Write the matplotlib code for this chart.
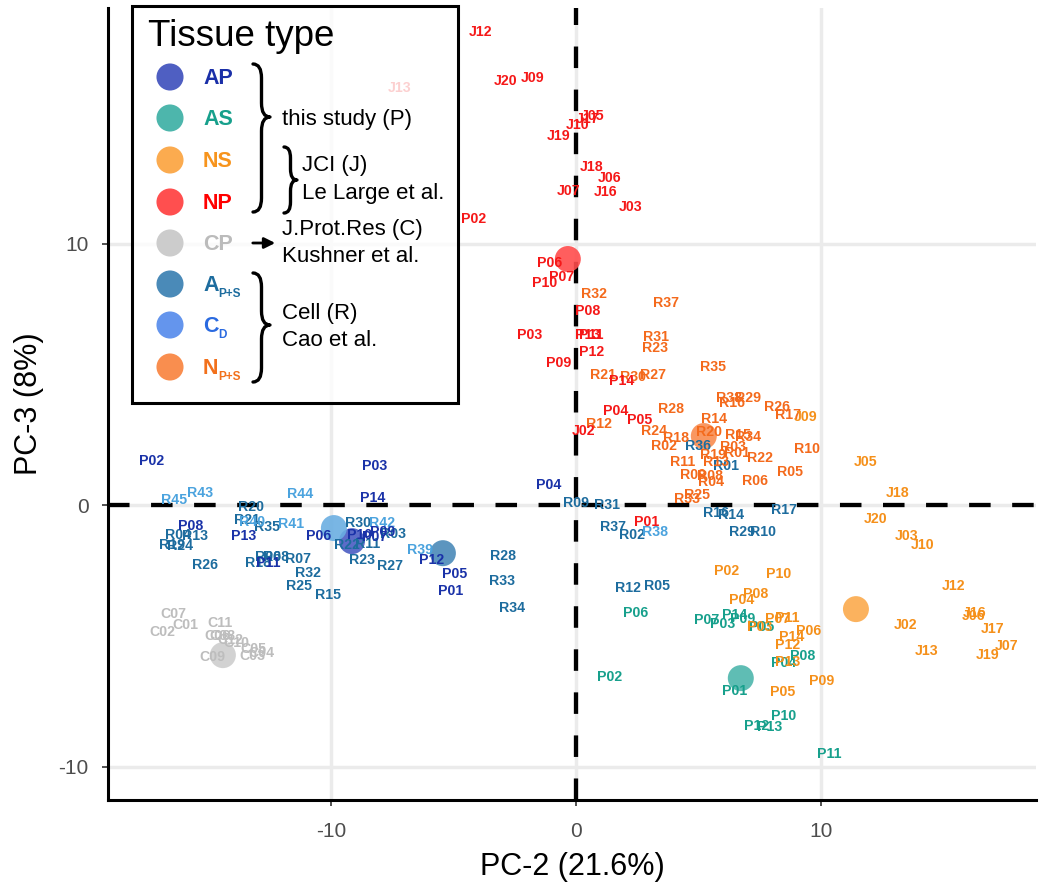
import matplotlib
matplotlib.use('Agg')
import matplotlib.pyplot as plt
from matplotlib.path import Path
from matplotlib.patches import PathPatch, Rectangle

plt.rcParams['font.family'] = ['Liberation Sans', 'DejaVu Sans']
plt.rcParams['axes.unicode_minus'] = False

# ---------------- data (PC-2, PC-3) ----------------
np_labels = ['J12','J20','J09','J13','J05','J17','J10','J19','J18','J06','J07','J16','J03',
             'P02','P06','P07','P10','P08','P03','P13','P11','P12','P09','P14','P04','P05','J02','P01']
np_x = [-3.88,-2.86,-1.76,-7.18,0.69,0.49,0.08,-0.69,0.65,1.39,-0.29,1.22,2.24,
        -4.16,-1.06,-0.57,-1.27,0.49,-1.88,0.49,0.61,0.65,-0.69,1.88,1.63,2.61,0.33,2.90]
np_y = [18.09,16.21,16.33,15.95,14.88,14.76,14.53,14.11,12.93,12.50,12.01,11.97,11.40,
        10.94,9.25,8.72,8.49,7.42,6.50,6.50,6.50,5.85,5.43,4.74,3.59,3.25,2.83,-0.65]

nps_labels = ['R32','R37','R31','R23','R35','R21','R30','R27','R38','R16','R29','R26','R17','R28',
              'R14','R12','R24','R20','R15','R34','R18','R02','R03','R10','R01','R19','R13','R22',
              'R11','R05','R09','R08','R06','R04','R25','R33']
nps_x = [0.73,3.67,3.27,3.22,5.59,1.10,2.33,3.14,6.24,6.37,7.02,8.20,8.65,3.88,
         5.63,0.94,3.18,5.43,6.61,7.02,4.08,3.59,6.41,9.43,6.57,5.59,5.71,7.51,
         4.37,8.73,4.78,5.47,7.31,5.51,4.94,4.53]
nps_y = [8.07,7.72,6.42,6.00,5.28,4.97,4.89,4.97,4.09,3.90,4.09,3.75,3.44,3.67,
         3.29,3.10,2.83,2.79,2.68,2.60,2.56,2.26,2.22,2.14,1.99,1.91,1.64,1.80,
         1.64,1.26,1.15,1.11,0.92,0.88,0.38,0.23]

aps_labels = ['R36','R01','R09','R31','R37','R02','R16','R14','R17','R29','R10','R12','R05',
              'R28','R33','R34','R20','R21','R35','R04','R13','R24','R19','R26','R30','R03',
              'R22','R11','R23','R27','R06','R08','R18','R07','R32','R25','R15']
aps_x = [4.98,6.12,0.00,1.27,1.51,2.29,5.71,6.33,8.49,6.78,7.63,2.12,3.31,
         -2.98,-3.02,-2.61,-13.27,-13.43,-12.61,-16.24,-15.55,-16.16,-16.49,-15.14,-8.90,-7.47,
         -9.35,-8.49,-8.73,-7.59,-12.57,-12.24,-12.98,-11.35,-10.94,-11.31,-10.12]
aps_y = [2.26,1.49,0.08,0.00,-0.84,-1.15,-0.31,-0.38,-0.19,-1.03,-1.03,-3.17,-3.10,
         -1.95,-2.91,-3.94,-0.08,-0.57,-0.84,-1.15,-1.19,-1.57,-1.53,-2.29,-0.69,-1.11,
         -1.53,-1.49,-2.10,-2.33,-1.99,-1.99,-2.22,-2.06,-2.60,-3.10,-3.44]

cd_labels = ['R45','R43','R44','R40','R41','R42','R39','R38']
cd_x = [-16.41,-15.35,-11.27,-13.22,-11.63,-7.92,-6.37,3.22]
cd_y = [0.19,0.46,0.42,-0.65,-0.73,-0.69,-1.72,-1.03]

ap_labels = ['P02','P03','P14','P04','P08','P13','P06','P10','P07','P09','P11','P12','P05','P01']
ap_x = [-17.31,-8.20,-8.29,-1.10,-15.71,-13.55,-10.49,-8.82,-8.20,-7.88,-12.57,-5.88,-4.94,-5.10]
ap_y = [1.68,1.49,0.27,0.76,-0.80,-1.19,-1.19,-1.15,-1.22,-1.03,-2.22,-2.10,-2.64,-3.29]

as_labels = ['P06','P07','P14','P09','P03','P05','P08','P04','P02','P01','P10','P12','P13','P11']
as_x = [2.45,5.35,6.49,6.82,6.00,7.59,9.27,8.49,1.39,6.49,8.49,7.39,7.92,10.33]
as_y = [-4.13,-4.40,-4.21,-4.36,-4.55,-4.67,-5.77,-6.04,-6.58,-7.11,-8.07,-8.45,-8.49,-9.52]

ns_labels = ['P02','P10','P08','P04','P07','P11','P03','P06','P14','P12','P13','P09','P05',
             'J05','J09','J18','J20','J03','J10','J12','J16','J06','J17','J02','J13','J07','J19']
ns_x = [6.16,8.29,7.35,6.78,8.24,8.61,7.51,9.51,8.82,8.65,8.65,10.04,8.45,
        11.84,9.39,13.14,12.24,13.51,14.16,15.43,16.29,16.24,17.02,13.47,14.33,17.59,16.82]
ns_y = [-2.52,-2.64,-3.40,-3.63,-4.36,-4.32,-4.67,-4.82,-5.05,-5.35,-6.00,-6.73,-7.15,
        1.64,3.37,0.46,-0.54,-1.19,-1.53,-3.10,-4.13,-4.24,-4.74,-4.59,-5.58,-5.39,-5.74]

cp_labels = ['C07','C01','C02','C11','C06','C08','C12','C10','C05','C04','C03','C09']
cp_x = [-16.45,-15.96,-16.90,-14.53,-14.65,-14.45,-14.12,-13.88,-13.18,-12.82,-13.22,-14.82]
cp_y = [-4.17,-4.59,-4.86,-4.51,-5.01,-5.01,-5.16,-5.28,-5.51,-5.66,-5.77,-5.81]

# group centroids
cent_groups = ['AP','AS','NS','NP','CP','APS','CD','NPS']
cent_x = [-9.14, 6.73, 11.43, -0.33, -14.41, -5.43, -9.88, 5.22]
cent_y = [-1.38, -6.62, -3.98, 9.41, -5.74, -1.84, -0.88, 2.64]

# legend
leg_main = ['AP','AS','NS','NP','CP','A','C','N']
leg_sub = ['', '', '', '', '', 'P+S', 'D', 'P+S']

# ---------------- styles ----------------
text_col = {'AP':'#1A32A8','AS':'#17A08C','NS':'#F5901A','NP':'#F51818','CP':'#BDBDBD',
            'APS':'#1D6C9E','CD':'#4BA3DE','NPS':'#F46A1C'}
circ_col = {'AP':'#4A5CC2','AS':'#4DB6AC','NS':'#FBAA4C','NP':'#FF4C4C','CP':'#CECECE',
            'APS':'#4A8AB8','CD':'#6AAEE2','NPS':'#F98C50'}
leg_circ = ['#4F5FC2','#4DB6AC','#FBAB4F','#FF4F4F','#CCCCCC','#4A8AB8','#6495ED','#F98E4F']
leg_text = ['#1A2FA8','#17A08C','#F7941D','#FF0000','#BBBBBB','#1D6C9E','#2A6AE0','#F2701B']

fig = plt.figure(figsize=(10.41, 8.91), dpi=100)
ax = fig.add_axes([108/1041, 91/891, 928/1041, 792/891])
ax.set_xlim(-19.10, 18.78)
ax.set_ylim(-11.28, 19.01)
ax.set_xticks([-10, 0, 10])
ax.set_yticks([-10, 0, 10])
ax.grid(True, color='#EBEBEB', lw=2.5)
ax.set_axisbelow(True)
for s in ['top', 'right']:
    ax.spines[s].set_visible(False)
for s in ['left', 'bottom']:
    ax.spines[s].set_linewidth(2.2)
ax.tick_params(labelsize=15, labelcolor='#4D4D4D', color='#333333', length=4, width=1.2)
ax.tick_params(axis='x', pad=12)
ax.tick_params(axis='y', pad=10)
ax.axhline(0, color='black', lw=3.1, ls=(0, (5, 5)), zorder=1.5)
ax.axvline(0, color='black', lw=3.1, ls=(0, (5, 5)), zorder=1.5)
ax.set_xlabel('PC-2 (21.6%)', fontsize=22, labelpad=8)
ax.set_ylabel('PC-3 (8%)', fontsize=22, labelpad=10)

# centroids
for g, cx, cy in zip(cent_groups, cent_x, cent_y):
    ax.scatter([cx], [cy], s=350, color=circ_col[g], alpha=0.9, edgecolors='none', zorder=2)

groups = [('CP', cp_labels, cp_x, cp_y), ('APS', aps_labels, aps_x, aps_y),
          ('CD', cd_labels, cd_x, cd_y), ('NPS', nps_labels, nps_x, nps_y),
          ('AS', as_labels, as_x, as_y), ('NS', ns_labels, ns_x, ns_y),
          ('AP', ap_labels, ap_x, ap_y), ('NP', np_labels, np_x, np_y)]
for g, labs, xs, ys in groups:
    for lab, x, y in zip(labs, xs, ys):
        ax.text(x, y, lab, color=text_col[g], fontsize=10.2, fontweight='bold',
                ha='center', va='center', zorder=3)

# ---------------- legend overlay in pixel coords ----------------
lax = fig.add_axes([0, 0, 1, 1], zorder=10)
lax.set_xlim(0, 1041)
lax.set_ylim(891, 0)
lax.axis('off')
lax.add_patch(Rectangle((132, 6), 326, 397, facecolor=(1, 1, 1, 0.8),
                        edgecolor='black', lw=2.2))
lax.text(148, 46, 'Tissue type', fontsize=26.5, ha='left', va='baseline', color='black')

leg_y = [77, 118, 160, 202, 243, 284, 325, 367]
for yy, c in zip(leg_y, leg_circ):
    lax.scatter([170], [yy], s=380, color=c, edgecolors='none')
for yy, m, sub, tc in zip(leg_y, leg_main, leg_sub, leg_text):
    lax.text(203, yy + 7, m, fontsize=15.5, fontweight='bold', color=tc, ha='left', va='baseline')
    if sub:
        lax.text(218, yy + 13, sub, fontsize=8.5, fontweight='bold', color=tc,
                 ha='left', va='baseline')


def brace(x, y0, y1, ytip, w, lw=2.4):
    h = w / 2.0
    q = min(14, (ytip - y0) / 3, (y1 - ytip) / 3)
    verts = [(x, y0), (x + h, y0), (x + h, y0 + q),
             (x + h, ytip - q),
             (x + h, ytip), (x + w, ytip),
             (x + h, ytip), (x + h, ytip + q),
             (x + h, y1 - q),
             (x + h, y1), (x, y1)]
    codes = [Path.MOVETO, Path.CURVE3, Path.CURVE3,
             Path.LINETO,
             Path.CURVE3, Path.CURVE3,
             Path.CURVE3, Path.CURVE3,
             Path.LINETO,
             Path.CURVE3, Path.CURVE3]
    lax.add_patch(PathPatch(Path(verts, codes), facecolor='none', edgecolor='black',
                            lw=lw, capstyle='round', joinstyle='round'))


brace(253, 64, 212, 117, 17)
brace(284, 147, 213, 180, 13)
brace(253, 273, 382, 325, 17)

lax.text(282, 119, 'this study (P)', fontsize=16, ha='left', va='center')
lax.text(302, 166, 'JCI (J)', fontsize=16, ha='left', va='center')
lax.text(302, 193, 'Le Large et al.', fontsize=16, ha='left', va='center')
lax.text(282, 230, 'J.Prot.Res (C)', fontsize=16, ha='left', va='center')
lax.text(282, 257, 'Kushner et al.', fontsize=16, ha='left', va='center')
lax.text(282, 313, 'Cell (R)', fontsize=16, ha='left', va='center')
lax.text(282, 340, 'Cao et al.', fontsize=16, ha='left', va='center')
lax.annotate('', xy=(278, 243), xytext=(250, 243),
             arrowprops=dict(arrowstyle='-|>', color='black', lw=2, mutation_scale=16))

fig.savefig('out.png', dpi=100)
